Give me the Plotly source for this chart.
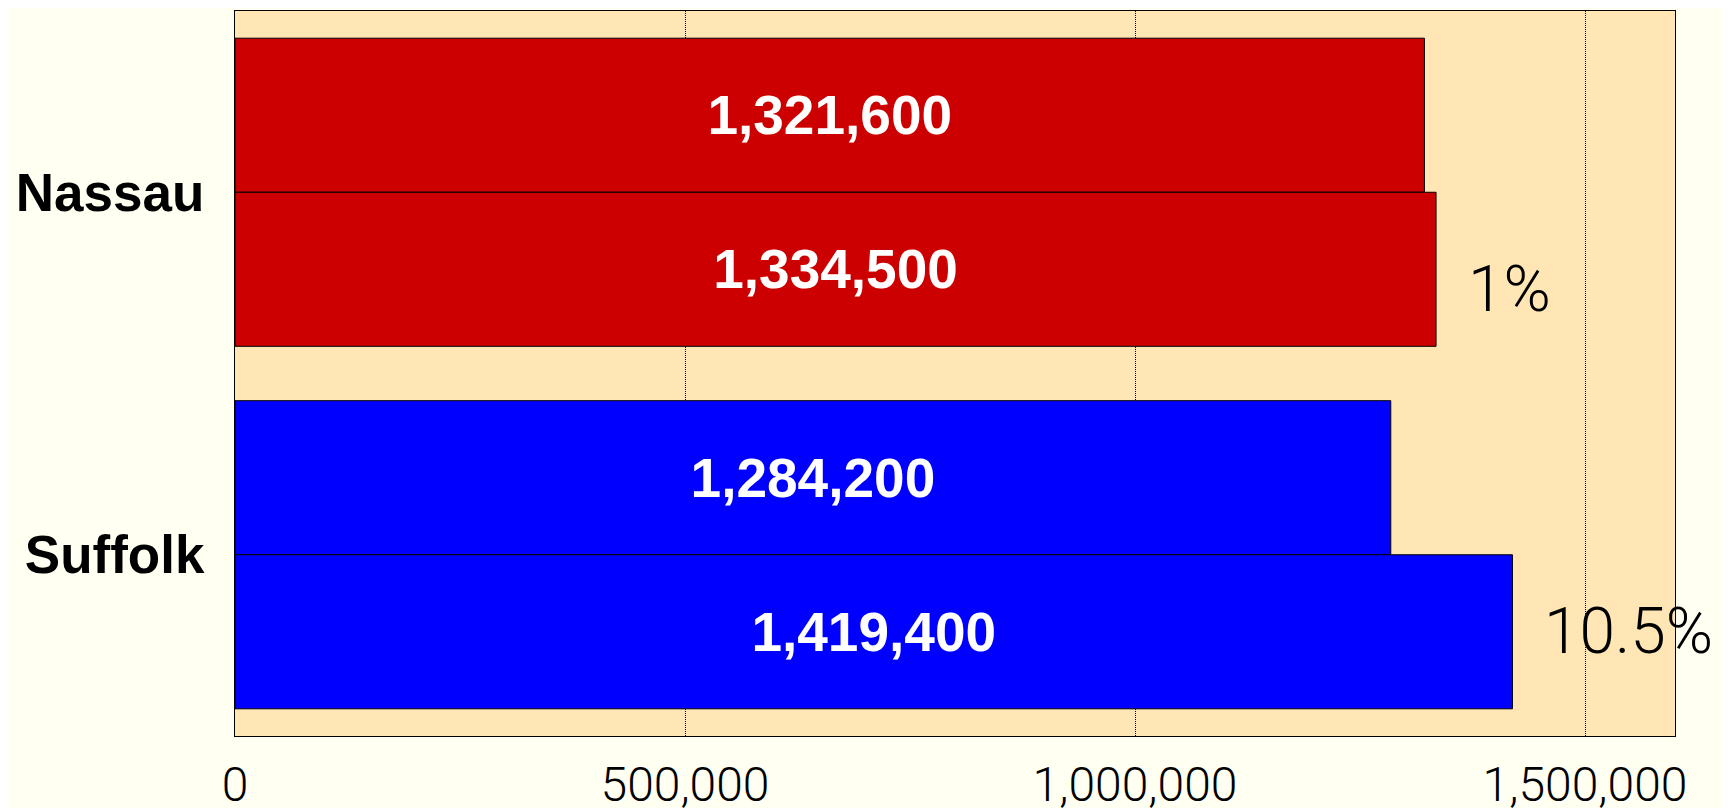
import plotly.graph_objects as go

counties = ["Nassau", "Suffolk"]
pop_earlier = [1321600, 1284200]
pop_later = [1334500, 1419400]
growth_labels = ["1%", "10.5%"]
bar_colors = ["#CC0000", "#0000FF"]
x_ticks = [0, 500000, 1000000, 1500000]
x_tick_text = ["0", "500,000", "1,000,000", "1,500,000"]

bar_font = dict(family="Liberation Sans, Arial, sans-serif", size=55, color="white", weight="bold")
thin_font = dict(family="Roboto, Open Sans, sans-serif", color="black", weight=300)

fig = go.Figure()
for values in (pop_earlier, pop_later):
    fig.add_trace(go.Bar(
        y=counties,
        x=values,
        orientation="h",
        marker=dict(color=bar_colors, line=dict(color="black", width=1)),
        text=[f"{v:,}" for v in values],
        textposition="inside",
        insidetextanchor="middle",
        textfont=bar_font,
        textangle=0,
        showlegend=False,
        hoverinfo="skip",
    ))

# growth labels sit just right of the later bar
label_shift = [-97, -77]
for county, value, label, dy in zip(counties, pop_later, growth_labels, label_shift):
    fig.add_annotation(
        x=value, y=county, text=label,
        xanchor="left", yanchor="middle",
        xshift=30, yshift=dy, showarrow=False,
        font=dict(thin_font, size=64),
    )

# page body adds an 8px offset, so the figure is 8px smaller each way
fig.update_layout(
    width=1722,
    height=800,
    barmode="group",
    bargap=0.15,
    bargroupgap=0,
    paper_bgcolor="#FFFFF2",
    plot_bgcolor="#FFE6B4",
    margin=dict(l=227, r=55, t=3, b=72),
    xaxis=dict(
        range=[0, 1600000],
        tickvals=x_ticks,
        ticktext=x_tick_text,
        showgrid=True,
        gridcolor="black",
        griddash="1px,1px",
        gridwidth=1,
        zeroline=False,
        showline=True,
        mirror=True,
        linecolor="black",
        linewidth=1,
        ticks="",
        automargin=False,
        ticklabelstandoff=6,
        tickfont=dict(thin_font, size=48),
    ),
    yaxis=dict(
        autorange="reversed",
        showgrid=False,
        showline=True,
        mirror=True,
        linecolor="black",
        linewidth=1,
        ticks="",
        automargin=False,
        ticklabelstandoff=19,
        tickfont=dict(family="Liberation Sans, Arial, sans-serif", size=53, color="black", weight="bold"),
    ),
)

fig.write_html("out.html")
